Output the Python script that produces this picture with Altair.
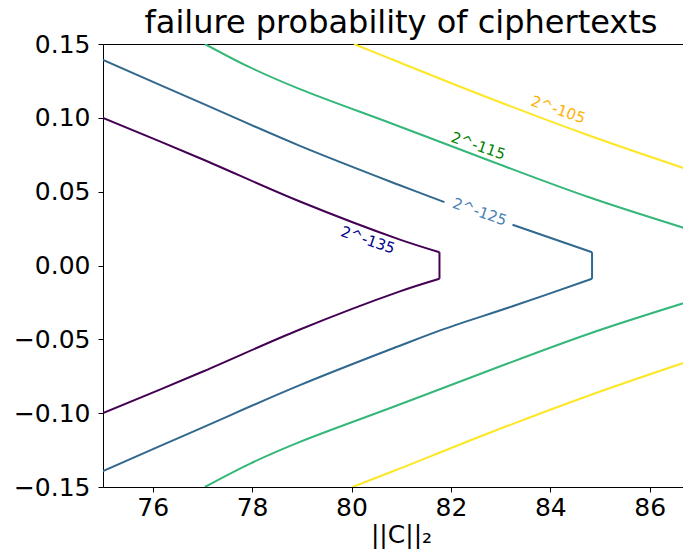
import altair as alt
import pandas as pd

FONT = "DejaVu Sans"

levels = ["2^-135", "2^-125", "2^-115", "2^-105"]
line_colors = ["#440154", "#31688e", "#35b779", "#fde725"]

# contour 2^-135 (purple)
c135u_x = [75.0, 76.94, 78.95, 80.96, 81.77]
c135u_y = [0.1000, 0.0728, 0.0435, 0.0177, 0.0090]
c135v_x = [81.77, 81.77]
c135v_y = [0.0090, -0.0090]
c135l_x = [81.77, 80.96, 78.95, 76.94, 75.0]
c135l_y = [-0.0090, -0.0177, -0.0435, -0.0728, -0.1000]

# contour 2^-125 (blue): piece before the inline label, piece after it, vertex, lower branch
c125a_x = [75.0, 76.94, 78.95, 80.96, 81.87]
c125a_y = [0.1393, 0.1106, 0.0812, 0.0545, 0.0429]
c125b_x = [83.24, 84.84]
c125b_y = [0.0276, 0.0090]
c125v_x = [84.84, 84.84]
c125v_y = [0.0090, -0.0090]
c125l_x = [84.84, 83.24, 81.87, 80.96, 78.95, 76.94, 75.0]
c125l_y = [-0.0090, -0.0276, -0.0429, -0.0545, -0.0812, -0.1106, -0.1393]

# contour 2^-115 (green)
c115u_x = [77.05, 77.95, 78.95, 80.86, 82.77, 84.78, 86.83]
c115u_y = [0.150, 0.1343, 0.1196, 0.0955, 0.0711, 0.0462, 0.0240]
c115l_x = [77.05, 77.95, 78.95, 80.86, 82.77, 84.78, 86.83]
c115l_y = [-0.150, -0.1343, -0.1196, -0.0955, -0.0711, -0.0462, -0.0240]

# contour 2^-105 (yellow)
c105u_x = [80.05, 80.86, 82.77, 84.78, 86.83]
c105u_y = [0.150, 0.1390, 0.1134, 0.0880, 0.0643]
c105l_x = [80.02, 80.86, 82.77, 84.78, 86.83]
c105l_y = [-0.150, -0.1390, -0.1134, -0.0880, -0.0643]

# inline labels
label_text = ["2^-135", "2^-125", "2^-115", "2^-105"]
label_x = [80.33, 82.58, 82.55, 84.16]
label_y = [0.0172, 0.0363, 0.0810, 0.1055]
label_colors = ["#00008b", "#4682b4", "#008000", "#ffb000"]

x_ticks = [76, 78, 80, 82, 84, 86]
y_ticks = [-0.15, -0.10, -0.05, 0.0, 0.05, 0.10, 0.15]

segments = [
    ("2^-135", "a1", c135u_x, c135u_y),
    ("2^-135", "a2", c135v_x, c135v_y),
    ("2^-135", "a3", c135l_x, c135l_y),
    ("2^-125", "b1", c125a_x, c125a_y),
    ("2^-125", "b2", c125b_x, c125b_y),
    ("2^-125", "b3", c125v_x, c125v_y),
    ("2^-125", "b4", c125l_x, c125l_y),
    ("2^-115", "c1", c115u_x, c115u_y),
    ("2^-115", "c2", c115l_x, c115l_y),
    ("2^-105", "d1", c105u_x, c105u_y),
    ("2^-105", "d2", c105l_x, c105l_y),
]
rows = []
for lvl, seg, xs, ys in segments:
    for i, (xv, yv) in enumerate(zip(xs, ys)):
        rows.append({"level": lvl, "seg": seg, "order": i, "x": xv, "y": yv})
df = pd.DataFrame(rows)

lab = pd.DataFrame({"text": label_text, "x": label_x, "y": label_y, "color": label_colors})

xscale = alt.Scale(domain=[75, 86.67], nice=False, zero=False)
yscale = alt.Scale(domain=[-0.15, 0.15], nice=False, zero=False)

xaxis = alt.Axis(values=x_ticks, format="d", labelFontSize=25, labelFont=FONT,
                 labelColor="black", tickColor="black", domainColor="black",
                 tickSize=5, labelPadding=3, grid=False,
                 titleFontSize=25, titleFont=FONT, titleFontWeight="normal",
                 titleColor="black", titleX=298, titleY=55,
                 titleBaseline="alphabetic", titleAlign="center")
xaxis_top = alt.Axis(orient="top", labels=False, ticks=False, domain=True,
                     domainColor="black", grid=False)
yaxis = alt.Axis(values=y_ticks, format=".2f", labelFontSize=25, labelFont=FONT,
                 labelColor="black", tickColor="black", domainColor="black",
                 tickSize=5, labelPadding=8, grid=False)

lines = alt.Chart(df).mark_line(strokeWidth=2, clip=True, interpolate="catmull-rom").encode(
    x=alt.X("x:Q", scale=xscale, axis=xaxis, title="||C||₂"),
    y=alt.Y("y:Q", scale=yscale, axis=yaxis, title=None),
    color=alt.Color("level:N", scale=alt.Scale(domain=levels, range=line_colors), legend=None),
    detail="seg:N",
    order="order:Q",
)

labels = alt.Chart(lab).mark_text(angle=19, fontSize=15, font=FONT).encode(
    x=alt.X("x:Q", scale=xscale, axis=xaxis_top, title=None),
    y=alt.Y("y:Q", scale=yscale, axis=yaxis, title=None),
    text="text:N",
    color=alt.Color("color:N", scale=None),
)

chart = alt.layer(lines, labels).resolve_axis(x="independent").properties(
    width=580,
    height=443,
    autosize=alt.AutoSizeParams(type="none"),
    padding={"left": 95, "top": 36, "right": 0, "bottom": 62},
    title=alt.TitleParams(
        "failure probability of ciphertexts",
        fontSize=32, font=FONT, fontWeight="normal", color="black",
        anchor="middle", dx=8, offset=-8,
    ),
).configure_view(strokeWidth=0)

chart.save("out.html", embed_options={"renderer": "svg", "actions": False})
